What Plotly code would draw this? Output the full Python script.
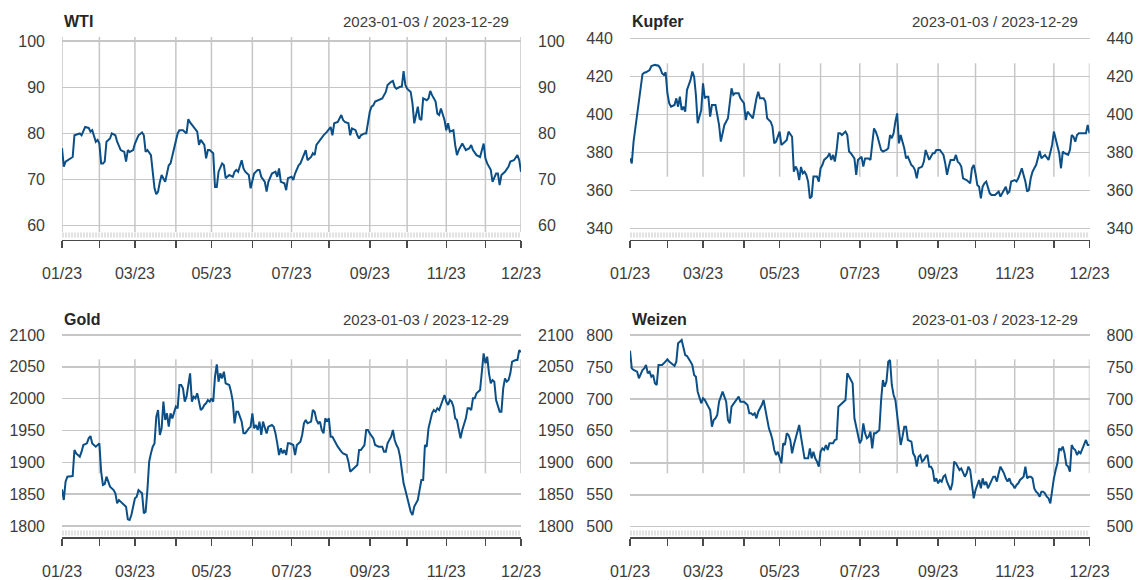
import plotly.graph_objects as go

W, H = 1143, 580
FONT = "Liberation Sans, Arial, sans-serif"
LINE = "#0b4f86"
GRID = "#c6c6c6"
TEXT = "#3c3c3c"

# x = weekday number counted from 2023-01-03 (Mon-Fri business-day calendar)
wti = [(0,76.8),(1,72.8),(2,73.9),(6,74.9),(7,79.6),(10,80.0),(11,79.6),(12,80.7),(13,81.4),(15,81.2),
       (16,80.4),(17,80.7),(18,79.6),(19,78.2),(20,78.6),(21,77.8),(22,73.5),(23,73.5),(24,73.9),(25,78.2),
       (27,78.9),(28,80.0),(30,79.6),(31,78.2),(33,76.4),(35,76.0),(36,73.9),(37,76.4),(38,76.0),(40,76.4),
       (41,77.8),(43,79.6),(45,80.2),(46,79.6),(47,76.0),(48,76.4),(50,75.3),(51,71.0),(52,68.1),(53,66.8),
       (54,67.4),(55,69.5),(56,71.0),(58,69.5),(59,71.7),(60,73.1),(61,73.5),(63,76.8),(65,80.0),(66,80.7),
       (68,80.7),(70,80.0),(71,83.1),(72,82.4),(74,81.4),(76,80.4),(77,77.5),(78,78.6),(80,77.5),(81,74.6),
       (82,76.4),(83,76.4),(85,75.7),(86,68.4),(87,68.4),(88,71.7),(90,73.5),(91,73.1),(92,70.3),(94,71.0),
       (96,70.6),(97,71.7),(98,72.1),(99,71.7),(101,74.2),(102,72.4),(103,71.7),(105,71.0),(106,68.1),(108,71.3),
       (110,72.1),(111,72.1),(112,70.6),(114,69.5),(115,67.4),(116,69.5),(118,71.3),(120,71.7),(121,70.6),(122,72.4),
       (123,69.5),(125,69.2),(126,67.7),(127,70.3),(129,70.6),(130,69.9),(131,71.3),(133,73.1),(134,73.5),(136,75.3),
       (137,76.4),(138,74.2),(140,74.9),(141,75.7),(142,75.3),(143,77.5),(145,78.6),(147,79.6),(149,80.4),(151,81.4),
       (152,79.6),(153,82.2),(155,82.5),(156,83.2),(157,84.0),(158,82.9),(159,82.5),(161,82.2),(162,79.6),(163,81.1),
       (165,80.7),(166,79.6),(167,78.9),(168,79.6),(170,80.0),(171,80.0),(172,82.2),(173,84.7),(174,85.8),(175,86.1),
       (176,86.9),(178,87.2),(180,87.6),(182,89.0),(183,90.5),(185,91.2),(186,91.4),(187,90.1),(188,89.7),(190,90.1),
       (191,90.1),(192,93.5),(193,90.5),(194,89.7),(196,89.0),(197,86.5),(198,82.2),(199,84.0),(200,85.8),(201,83.2),
       (202,82.9),(203,87.6),(205,87.2),(206,87.6),(207,89.2),(208,88.3),(210,86.9),(211,84.3),(212,84.0),(213,85.4),
       (214,84.0),(215,82.9),(216,80.7),(217,82.2),(218,80.4),(220,80.7),(221,77.5),(222,75.3),(223,76.4),(225,77.8),
       (227,76.4),(229,76.8),(230,77.5),(231,76.4),(233,75.3),(235,74.9),(237,77.8),(238,74.6),(239,73.5),(241,72.1),
       (242,69.5),(244,71.3),(245,71.3),(246,68.8),(247,71.0),(249,71.7),(251,72.8),(252,73.9),(254,74.2),(256,75.3),
       (257,74.2),(258,71.7)]

kupfer = [(0,376.8),(1,374.2),(2,385.6),(3,392.6),(4,401.4),(5,405.8),(6,415.4),(7,421.1),(8,421.9),(9,422.1),
          (11,423.3),(12,425.4),(14,426.0),(16,425.6),(17,424.2),(18,421.6),(19,420.7),(20,422.1),(21,411.1),(22,405.8),
          (23,404.0),(25,404.9),(26,408.4),(27,404.0),(28,409.3),(29,402.3),(30,404.0),(31,401.4),(32,412.8),(34,418.1),
          (35,422.5),(36,419.8),(37,410.2),(38,395.3),(39,398.8),(40,402.3),(41,416.3),(42,408.4),(43,409.3),(44,409.3),
          (45,398.8),(46,404.9),(48,404.9),(49,399.6),(50,394.4),(51,385.6),(52,390.0),(53,394.4),(55,397.9),(56,407.5),
          (57,413.7),(58,410.2),(59,411.1),(61,411.1),(62,408.4),(64,405.8),(65,397.0),(66,401.4),(68,398.8),(69,397.9),
          (71,408.4),(72,411.9),(73,408.4),(75,408.4),(76,406.7),(77,397.9),(79,396.1),(80,393.5),(81,384.7),(82,385.6),
          (84,390.9),(85,383.9),(87,385.6),(88,386.5),(89,390.9),(91,388.2),(92,369.8),(93,372.5),(94,370.7),(95,365.4),
          (96,372.3),(97,368.9),(98,369.8),(99,368.1),(100,364.6),(101,355.8),(102,356.7),(103,367.2),(105,367.2),(106,364.6),
          (107,371.6),(108,373.3),(109,376.0),(111,377.7),(112,379.5),(113,376.0),(114,378.6),(115,375.1),(116,381.2),(117,390.0),
          (118,390.0),(119,389.1),(120,390.0),(121,390.9),(122,389.1),(123,380.4),(124,379.5),(126,376.8),(127,368.1),(128,376.0),
          (129,376.8),(130,377.7),(131,372.5),(132,376.8),(134,376.8),(135,376.0),(137,392.6),(138,390.9),(139,388.2),(140,383.9),
          (141,381.2),(142,380.4),(144,381.2),(145,382.1),(146,389.1),(147,387.4),(148,390.0),(149,396.1),(150,400.5),(151,384.7),
          (152,389.1),(153,385.6),(154,382.1),(155,376.8),(156,377.7),(158,373.3),(159,372.5),(160,370.7),(161,366.3),(162,371.6),
          (164,372.5),(165,375.1),(166,381.2),(168,376.0),(169,377.7),(170,379.5),(171,379.5),(172,381.2),(174,381.2),(176,378.6),
          (177,374.2),(178,368.1),(179,372.5),(180,376.0),(182,376.0),(183,378.6),(184,375.1),(185,374.2),(186,372.5),(187,366.3),
          (189,365.4),(190,364.6),(191,363.7),(192,371.6),(193,373.3),(194,368.9),(195,362.8),(196,361.9),(197,355.8),(198,361.9),
          (199,363.7),(200,364.6),(201,361.1),(202,358.4),(203,357.5),(205,357.5),(206,358.4),(207,359.3),(208,356.7),(209,358.4),
          (210,360.2),(211,361.9),(212,358.4),(213,359.3),(214,364.6),(216,365.4),(217,364.6),(218,366.3),(219,368.9),(220,371.6),
          (221,368.1),(222,364.6),(223,359.3),(224,360.2),(225,366.3),(226,369.8),(227,371.6),(228,373.3),(229,376.8),(230,380.7),
          (231,376.8),(233,378.6),(235,376.0),(236,379.5),(237,383.9),(238,390.9),(239,387.4),(240,383.9),(241,379.5),(242,371.6),
          (243,380.4),(244,379.5),(246,378.6),(247,381.2),(248,389.1),(249,388.2),(250,385.6),(251,389.1),(252,390.0),(254,390.0),
          (255,390.0),(256,390.0),(257,394.4),(258,390.0)]

gold = [(0,1857.6),(1,1840.8),(2,1869.6),(3,1877.5),(6,1878.5),(7,1919.4),(8,1914.1),(10,1908.9),(11,1916.8),(12,1927.2),
        (14,1929.8),(15,1937.7),(16,1941.4),(17,1929.8),(19,1924.6),(21,1929.8),(22,1885.3),(23,1864.4),(24,1866.0),(25,1877.5),
        (27,1861.8),(29,1856.5),(30,1851.3),(31,1835.6),(32,1840.8),(34,1835.6),(36,1830.4),(37,1810.5),(38,1809.4),(39,1817.3),
        (41,1843.5),(42,1846.1),(43,1856.5),(44,1853.9),(45,1851.3),(46,1819.9),(47,1822.5),(48,1856.5),(49,1901.1),(50,1914.1),
        (51,1924.6),(52,1929.8),(53,1971.7),(54,1982.2),(55,1943.0),(56,1953.4),(57,1995.3),(58,1966.5),(59,1977.0),(60,1956.0),
        (61,1977.0),(62,1969.1),(63,1979.6),(64,1987.4),(65,1984.8),(66,2021.5),(67,2021.5),(68,2016.2),(69,1995.3),(70,2003.1),
        (72,2039.8),(73,1995.3),(74,2003.1),(75,2000.5),(76,2008.4),(77,1995.3),(78,1982.2),(79,1984.8),(80,1990.1),(81,1992.7),
        (82,1997.9),(83,1995.3),(84,2000.5),(85,1995.3),(86,2034.6),(87,2054.0),(88,2026.7),(89,2039.8),(90,2032.0),(91,2042.4),
        (92,2024.1),(94,2021.5),(95,2011.0),(96,1995.3),(97,1961.3),(98,1979.6),(99,1979.6),(100,1971.7),(101,1963.9),(102,1945.5),
        (103,1945.5),(105,1953.4),(106,1956.0),(107,1977.0),(108,1953.4),(109,1958.6),(110,1950.8),(111,1963.9),(112,1943.0),(113,1963.9),
        (114,1956.0),(115,1945.5),(116,1956.0),(118,1958.6),(119,1956.0),(120,1945.5),(121,1929.8),(122,1911.5),(123,1922.0),(124,1914.1),
        (125,1919.4),(126,1911.5),(127,1929.8),(128,1929.8),(130,1927.2),(131,1911.5),(132,1927.2),(133,1929.8),(134,1932.5),(135,1942.9),
        (136,1961.3),(137,1966.5),(138,1961.3),(140,1963.9),(141,1982.2),(142,1979.6),(143,1966.5),(144,1961.3),(145,1963.9),(146,1950.8),
        (147,1945.5),(148,1969.1),(149,1963.9),(150,1969.1),(151,1940.3),(152,1940.3),(154,1929.8),(155,1924.6),(157,1916.8),(158,1914.1),
        (160,1911.5),(161,1901.1),(162,1885.3),(164,1890.6),(165,1893.2),(166,1895.8),(167,1919.4),(168,1919.4),(170,1927.2),(171,1950.8),
        (172,1950.8),(173,1945.5),(175,1937.7),(176,1927.2),(178,1924.6),(180,1924.6),(181,1916.8),(182,1916.8),(183,1929.8),(184,1935.1),
        (185,1940.3),(186,1950.8),(187,1935.1),(188,1927.2),(189,1922.0),(190,1909.0),(191,1888.0),(192,1867.0),(193,1856.5),(195,1835.6),
        (196,1822.5),(197,1817.3),(198,1830.4),(200,1840.8),(201,1856.5),(202,1872.2),(203,1872.2),(204,1927.2),(205,1924.6),(206,1953.4),
        (208,1977.0),(209,1982.2),(210,1979.6),(211,1984.8),(212,1982.2),(213,1990.1),(214,1995.3),(215,2005.8),(216,1995.3),(217,1990.1),
        (218,1997.9),(219,1995.3),(220,1987.4),(221,1969.1),(222,1966.5),(223,1950.8),(224,1937.7),(225,1950.8),(226,1958.6),(227,1969.1),
        (228,1984.8),(229,1984.8),(230,1982.2),(231,2000.5),(232,2000.5),(233,2008.4),(235,2013.6),(236,2045.0),(237,2071.2),(238,2055.5),
        (239,2065.9),(240,2039.8),(241,2024.1),(242,2029.3),(243,2026.7),(244,1997.9),(245,1990.1),(246,1979.6),(247,1979.6),(248,2016.2),
        (249,2031.9),(250,2026.7),(251,2029.3),(252,2039.8),(253,2058.1),(255,2060.7),(256,2060.7),(257,2076.0),(258,2073.0)]

weizen = [(0,775.5),(1,747.8),(2,745.2),(4,742.6),(5,732.2),(6,740.0),(7,745.2),(8,747.8),(9,753.1),(10,740.0),
          (11,742.6),(12,734.8),(13,737.4),(14,724.4),(15,721.8),(16,753.1),(18,753.1),(19,755.7),(21,761.9),(22,758.3),
          (23,755.7),(25,751.5),(26,758.3),(27,787.0),(28,789.6),(29,792.2),(31,768.7),(32,767.1),(34,758.3),(35,753.1),
          (36,737.4),(37,734.8),(38,711.3),(39,703.5),(40,693.1),(41,700.9),(42,698.3),(44,687.8),(45,682.6),(46,656.5),
          (47,667.0),(48,669.6),(49,674.8),(50,695.7),(51,703.5),(52,711.3),(53,703.5),(54,695.7),(55,667.0),(56,661.8),
          (57,687.8),(59,695.7),(61,703.5),(62,695.7),(64,695.7),(66,690.5),(67,677.4),(68,677.4),(69,674.8),(70,677.4),
          (71,669.6),(72,680.0),(74,690.5),(75,698.3),(76,682.6),(77,667.0),(78,653.9),(79,646.1),(80,635.7),(81,620.0),
          (82,612.2),(83,617.4),(84,607.0),(85,599.2),(86,630.5),(87,627.9),(88,646.1),(89,643.5),(90,635.7),(91,614.8),
          (92,627.9),(94,648.7),(95,659.2),(96,640.9),(97,622.6),(98,607.0),(100,607.0),(101,622.6),(102,607.0),(103,617.4),
          (104,607.0),(105,601.8),(106,594.0),(107,617.4),(108,622.6),(109,620.0),(110,627.9),(111,620.0),(112,630.5),(114,630.5),
          (115,635.7),(116,636.7),(117,687.8),(119,693.1),(121,698.3),(122,740.0),(123,734.8),(124,729.6),(125,724.4),(126,669.6),
          (128,640.9),(129,630.5),(130,635.7),(131,661.8),(132,646.1),(133,638.3),(134,640.9),(135,648.7),(136,622.6),(137,646.1),
          (138,646.1),(140,651.3),(141,698.3),(142,729.6),(143,719.1),(144,727.0),(145,758.3),(146,760.9),(147,721.8),(148,706.1),
          (149,698.3),(150,674.8),(151,651.3),(152,627.9),(153,640.9),(154,656.5),(155,656.5),(156,635.7),(158,633.1),(159,614.8),
          (160,609.6),(161,594.0),(162,609.6),(163,612.2),(164,601.8),(165,604.4),(166,609.6),(167,612.2),(168,594.0),(169,594.0),
          (170,588.7),(171,570.5),(172,575.7),(173,567.9),(174,573.1),(175,570.5),(176,578.3),(177,580.9),(178,570.5),(179,562.6),
          (180,557.4),(181,567.9),(182,601.8),(183,599.2),(184,594.0),(185,588.7),(186,591.3),(188,578.3),(189,583.5),(190,594.0),
          (191,588.7),(192,565.3),(193,544.4),(194,557.4),(195,565.3),(196,573.1),(197,560.0),(198,575.7),(199,565.3),(200,570.5),
          (201,560.0),(202,565.3),(203,573.1),(204,578.3),(205,578.3),(206,570.5),(207,583.5),(208,594.0),(209,588.7),(210,583.5),
          (211,575.7),(212,570.5),(213,575.7),(214,567.9),(215,565.3),(216,560.0),(217,565.3),(218,567.9),(219,573.1),(220,575.7),
          (221,578.3),(222,594.0),(223,575.7),(224,578.3),(225,578.3),(226,575.7),(227,560.0),(228,554.8),(229,552.2),(230,547.0),
          (231,554.8),(232,554.8),(233,552.2),(234,547.0),(235,544.4),(236,536.6),(237,557.4),(238,575.7),(239,588.7),(240,599.2),
          (241,622.6),(242,620.0),(243,625.3),(244,614.8),(245,596.6),(246,594.0),(247,586.1),(248,627.9),(249,622.6),(250,620.0),
          (251,612.2),(252,617.4),(253,614.8),(254,622.6),(255,627.9),(256,635.7),(257,627.9),(258,627.9)]

tick_days = [0, 21, 41, 64, 84, 107, 129, 150, 173, 194, 216, 238, 258]
tick_text = ["01/23", "", "03/23", "", "05/23", "", "07/23", "", "09/23", "", "11/23", "", "12/23"]
date_span = "2023-01-03 / 2023-12-29"

titles = ["WTI", "Kupfer", "Gold", "Weizen"]
series = [wti, kupfer, gold, weizen]
yticks = [[60, 70, 80, 90, 100],
          [340, 360, 380, 400, 420, 440],
          [1800, 1850, 1900, 1950, 2000, 2050, 2100],
          [500, 550, 600, 650, 700, 750, 800]]

# ---- layout geometry (pixels) ----
XPIX = [(62, 521), (630, 1089.5)]          # plot left/right per column
YPIX = [(34, 239.5), (331, 537)]           # plot top / axis line per row
anchors = [(100, 41.2, 60, 225.7), (440, 38.3, 340, 228.3),
           (2100, 335, 1800, 526), (800, 335, 500, 526.7)]
vgrid = [(37, 232), (63.3, 176.7), (359.3, 473.3), (359.3, 473.3)]
first_line = [True, False, False, False]
RUG = [235, 533]
TITLE_Y = [21, 319]

fig = go.Figure()
layout = dict(width=W, height=H, autosize=False,
              margin=dict(l=0, r=0, t=0, b=0, pad=0, autoexpand=False),
              paper_bgcolor="white", plot_bgcolor="white", showlegend=False,
              font=dict(family=FONT, color=TEXT, size=16))
shapes, annotations = [], []

for i in range(4):
    col, row = i % 2, i // 2
    n = i + 1
    xa = "x" if n == 1 else f"x{n}"
    ya = "y" if n == 1 else f"y{n}"
    yr = f"y{n + 4}"
    days = [d for d, v in series[i]]
    vals = [v for d, v in series[i]]

    fig.add_trace(go.Scatter(x=days, y=vals, mode="lines", xaxis=xa, yaxis=ya,
                             line=dict(color=LINE, width=2), name=titles[i]))
    fig.add_trace(go.Scatter(x=days, y=vals, mode="lines", xaxis=xa, yaxis=yr,
                             line=dict(color=LINE, width=1), opacity=0, hoverinfo="skip"))

    xl, xr = XPIX[col]
    yt, yb = YPIX[row]
    vt, pt, vb, pb = anchors[i]
    scale = (pb - pt) / (vt - vb)
    r_top = vt + (pt - yt) / scale
    r_bot = vb - (yb - pb) / scale
    xdom = [xl / W, xr / W]
    ydom = [1 - yb / H, 1 - yt / H]

    layout["xaxis" if n == 1 else f"xaxis{n}"] = dict(
        domain=xdom, range=[0, 258], anchor=ya, tickmode="array",
        tickvals=tick_days, ticktext=tick_text, showgrid=False, zeroline=False,
        showline=True, linecolor="#4a4a4a", linewidth=1.5, ticks="outside",
        ticklen=7, tickwidth=1.5, tickcolor="#4a4a4a", ticklabelstandoff=12,
        automargin=False,
        tickfont=dict(size=16, color=TEXT, family=FONT), fixedrange=True)
    common_y = dict(domain=ydom, range=[r_bot, r_top], tickmode="array",
                    tickvals=yticks[i], zeroline=False, showline=False, ticks="",
                    tickfont=dict(size=16, color=TEXT, family=FONT), fixedrange=True,
                    ticklabelstandoff=16, automargin=False)
    layout["yaxis" if n == 1 else f"yaxis{n}"] = dict(
        common_y, anchor=xa, side="left", showgrid=True, gridcolor=GRID, gridwidth=1.5)
    layout[f"yaxis{n + 4}"] = dict(
        common_y, anchor=xa, side="right", overlaying=ya, showgrid=False)

    # vertical grid lines at month starts
    v0, v1 = vgrid[i]
    for k, d in enumerate(tick_days):
        if k == 0 and not first_line[i]:
            continue
        shapes.append(dict(type="line", xref=xa, yref="paper", x0=d, x1=d,
                           y0=1 - v1 / H, y1=1 - v0 / H, layer="below",
                           line=dict(color=GRID, width=1.5)))
    # faint rug band
    shapes.append(dict(type="line", xref=xa, yref="paper", x0=0, x1=258,
                       y0=1 - RUG[row] / H, y1=1 - RUG[row] / H, layer="below",
                       line=dict(color="#e2e2e2", width=5, dash="2px,1px")))

    annotations.append(dict(text=f"<b>{titles[i]}</b>", xref="paper", yref="paper",
                            x=xl / W, y=1 - TITLE_Y[row] / H, xanchor="left", yanchor="middle",
                            showarrow=False, font=dict(size=16, color="#262626", family=FONT)))
    annotations.append(dict(text=date_span, xref="paper", yref="paper",
                            x=(xr - 10) / W, y=1 - TITLE_Y[row] / H, xanchor="right", yanchor="middle",
                            showarrow=False, font=dict(size=15, color=TEXT, family=FONT)))

layout["shapes"] = shapes
layout["annotations"] = annotations
fig.update_layout(**layout)
fig.write_html("out.html", config={"displayModeBar": False, "staticPlot": True},
               post_script="document.body.style.margin='0';document.body.style.overflow='hidden';")
